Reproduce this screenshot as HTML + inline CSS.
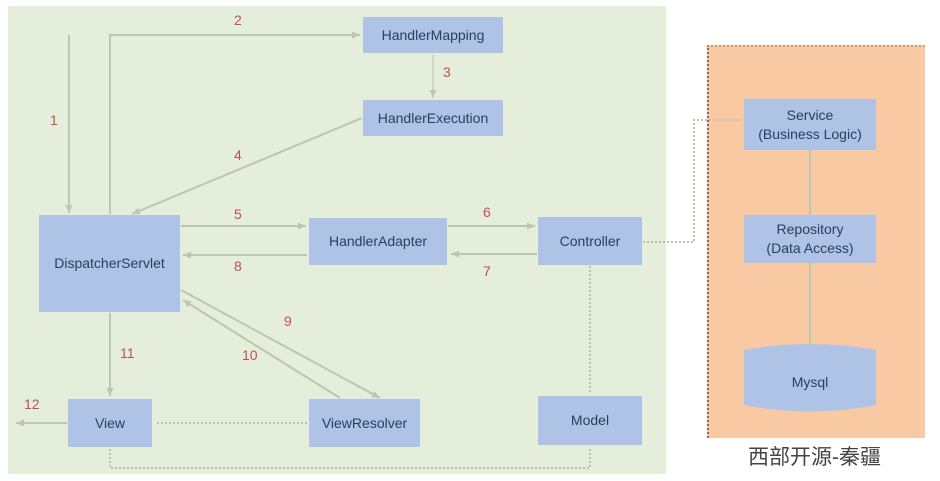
<!DOCTYPE html>
<html><head><meta charset="utf-8"><style>
body{margin:0;width:940px;height:481px;background:#fff;overflow:hidden;position:relative;font-family:"Liberation Sans","Noto Sans CJK SC",sans-serif}
.b{position:absolute;background:#aec3e6;color:#2c3e5c;font-size:14px;display:flex;align-items:center;justify-content:center;text-align:center;line-height:19px}
.n{position:absolute;color:#c0504d;font-size:14px}
</style></head><body>
<div style="position:absolute;left:8px;top:6px;width:658px;height:468px;background:#e5eddb"></div>
<div style="position:absolute;left:707px;top:45px;width:216px;height:391px;background:#f9c9a4;border-left:2px dotted #8a6a5a;border-top:2px dotted #c9a080"></div>
<svg width="940" height="481" style="position:absolute;left:0;top:0">
<defs><marker id="a" markerUnits="userSpaceOnUse" markerWidth="10" markerHeight="10" refX="8" refY="5" orient="auto"><path d="M0,1.5 L8,5 L0,8.5z" fill="#bcc6b0"/></marker></defs>
<g stroke="#bcc6b0" stroke-width="2" fill="none">
<line x1="69" y1="35" x2="69" y2="213" marker-end="url(#a)"/>
<polyline points="110,214 110,35 360,35" marker-end="url(#a)"/>
<line x1="433" y1="55" x2="433" y2="98" stroke-width="1.2" marker-end="url(#a)"/>
<line x1="362" y1="118" x2="132" y2="214" marker-end="url(#a)"/>
<line x1="181" y1="226" x2="306" y2="226" marker-end="url(#a)"/>
<line x1="307" y1="255" x2="183" y2="255" marker-end="url(#a)"/>
<line x1="448" y1="226" x2="535" y2="226" marker-end="url(#a)"/>
<line x1="537" y1="254" x2="451" y2="254" marker-end="url(#a)"/>
<line x1="181" y1="290" x2="380" y2="398" marker-end="url(#a)"/>
<line x1="340" y1="398" x2="183" y2="300" marker-end="url(#a)"/>
<line x1="110" y1="313" x2="110" y2="396" marker-end="url(#a)"/>
<line x1="67" y1="423" x2="16" y2="423" marker-end="url(#a)"/>
<line x1="810" y1="150" x2="810" y2="215"/>
<line x1="810" y1="263" x2="810" y2="345"/>
</g>
<g stroke="#b8c2ac" stroke-width="2" fill="none" stroke-dasharray="2,2">
<line x1="307" y1="423" x2="156" y2="423"/>
<line x1="590" y1="266" x2="590" y2="394"/>
<polyline points="110,449 110,468 590,468 590,448"/>
<polyline points="643,242 694,242 694,120 742,120"/>
</g>
<path d="M744,350 Q810,338 876,350 L876,405 Q810,418 744,405Z" fill="#aec3e6"/>
</svg>
<div class="b" style="left:363px;top:17px;width:140px;height:36px">HandlerMapping</div>
<div class="b" style="left:363px;top:100px;width:140px;height:36px">HandlerExecution</div>
<div class="b" style="left:39px;top:215px;width:141px;height:97px">DispatcherServlet</div>
<div class="b" style="left:309px;top:218px;width:138px;height:47px">HandlerAdapter</div>
<div class="b" style="left:538px;top:217px;width:104px;height:48px">Controller</div>
<div class="b" style="left:68px;top:399px;width:84px;height:48px">View</div>
<div class="b" style="left:309px;top:399px;width:111px;height:48px">ViewResolver</div>
<div class="b" style="left:538px;top:396px;width:104px;height:49px">Model</div>
<div class="b" style="left:744px;top:99px;width:132px;height:51px">Service<br>(Business Logic)</div>
<div class="b" style="left:744px;top:215px;width:132px;height:48px">Repository<br>(Data Access)</div>
<div class="b" style="left:744px;top:362px;width:132px;height:40px;background:none">Mysql</div>
<div class="n" style="left:50px;top:112px">1</div>
<div class="n" style="left:234px;top:12px">2</div>
<div class="n" style="left:443px;top:64px">3</div>
<div class="n" style="left:234px;top:147px">4</div>
<div class="n" style="left:234px;top:206px">5</div>
<div class="n" style="left:483px;top:204px">6</div>
<div class="n" style="left:483px;top:263px">7</div>
<div class="n" style="left:234px;top:258px">8</div>
<div class="n" style="left:284px;top:313px">9</div>
<div class="n" style="left:242px;top:347px">10</div>
<div class="n" style="left:120px;top:345px">11</div>
<div class="n" style="left:24px;top:396px">12</div>
<div style="position:absolute;left:748px;top:441px;font-size:21px;color:#444">西部开源-秦疆</div>
</body></html>
